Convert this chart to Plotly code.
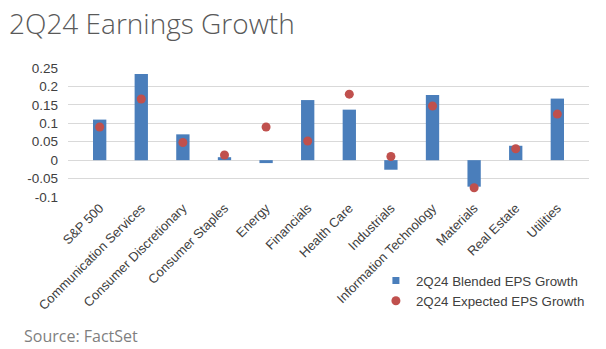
import plotly.graph_objects as go

categories = ["S&P 500", "Communication Services", "Consumer Discretionary", "Consumer Staples",
              "Energy", "Financials", "Health Care", "Industrials", "Information Technology",
              "Materials", "Real Estate", "Utilities"]
blended = [0.110, 0.234, 0.070, 0.008, -0.008, 0.163, 0.137, -0.026, 0.177, -0.072, 0.039, 0.167]
expected = [0.090, 0.166, 0.048, 0.014, 0.090, 0.052, 0.179, 0.010, 0.147, -0.075, 0.031, 0.125]
y_ticks = [-0.1, -0.05, 0, 0.05, 0.1, 0.15, 0.2, 0.25]
y_labels = ["-0.1", "-0.05", "0", "0.05", "0.1", "0.15", "0.2", "0.25"]

BAR_COLOR = "#4a7ebb"
DOT_COLOR = "#c0504d"

fig = go.Figure()
fig.add_trace(go.Bar(x=categories, y=blended, name="2Q24 Blended EPS Growth",
                     marker=dict(color=BAR_COLOR, line=dict(width=0)), width=0.32,
                     showlegend=False, legendgroup="b"))
# legend entry for the bar series with a small square swatch
fig.add_trace(go.Scatter(x=[None], y=[None], name="2Q24 Blended EPS Growth",
                         mode="markers", legendgroup="b",
                         marker=dict(color=BAR_COLOR, size=7, symbol="square", line=dict(width=0))))
fig.add_trace(go.Scatter(x=categories, y=expected, name="2Q24 Expected EPS Growth",
                         mode="markers", marker=dict(color=DOT_COLOR, size=9, line=dict(width=0))))

fig.update_layout(
    width=606, height=349,
    margin=dict(l=68, r=17, t=68, b=152),
    paper_bgcolor="white", plot_bgcolor="white",
    font=dict(family="Liberation Sans, Arial", size=13, color="#595959"),
    showlegend=True,
    legend=dict(x=0.591, y=-0.53, xanchor="left", yanchor="top", bgcolor="rgba(0,0,0,0)",
                font=dict(size=13.3, color="#404040"), itemwidth=30, tracegroupgap=0,
                traceorder="normal", itemsizing="trace"),
    xaxis=dict(tickangle=-45, showgrid=False, showline=False, ticks="",
               tickfont=dict(size=13, color="#404040"), fixedrange=True),
    yaxis=dict(range=[-0.1, 0.25], tickvals=y_ticks, ticktext=y_labels,
               showgrid=True, gridcolor="#d9d9d9", gridwidth=1,
               zeroline=True, zerolinecolor="#d9d9d9", zerolinewidth=1,
               tickfont=dict(size=13.5, color="#404040"), ticklabelstandoff=9),
    annotations=[
        dict(text="2Q24 Earnings Growth", x=0, y=1, xref="paper", yref="paper",
             xanchor="left", yanchor="top", showarrow=False,
             font=dict(family="Open Sans, Lato", size=28, color="#595959", weight=300),
             xshift=-68 + 7, yshift=68 - 2),
        dict(text="Source: FactSet", x=0, y=0, xref="paper", yref="paper",
             xanchor="left", yanchor="top", showarrow=False,
             font=dict(family="Open Sans, Lato", size=16, color="#7f7f7f"),
             xshift=-68 + 22, yshift=-126),
    ],
)
fig.write_html("out.html")
